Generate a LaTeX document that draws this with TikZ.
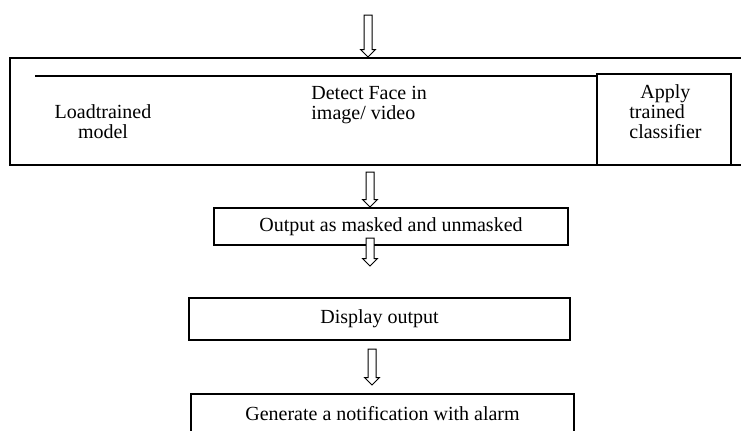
\documentclass[tikz,border=0pt]{standalone}
\usepackage{fontspec}
\setmainfont{Liberation Serif}
\usetikzlibrary{shapes.arrows}

\begin{document}
\begin{tikzpicture}[x=0.5pt, y=-0.5pt,
  every node/.style={font=\fontsize{10}{10}\selectfont},
  box/.style={draw, line width=0.6pt, inner sep=0pt},
  hollow/.style={single arrow, draw, fill=white, line width=0.5pt, shape border rotate=270,
    inner sep=1.75pt, minimum width=7pt, single arrow head extend=1.75pt, single arrow head indent=0pt}]
\useasboundingbox (0,0) rectangle (741,430);
% incoming arrow and the detection stage
\node[hollow, minimum height=21pt] (in) at (368,34) {};
\node[box, minimum width=370pt, minimum height=53.5pt] (pipeline) at (380,111.5) {};
\node[box, minimum width=67pt, minimum height=45.5pt] (classify) at (664,119.5) {};
\coordinate (rule) at (35,76);
\draw[line width=0.6pt] (rule) -- (rule -| classify.west);
\node[align=center] (load) at (103,122) {Loadtrained\\model};
\node[align=left, anchor=west, inner sep=0pt] (detect) at (311,105) {Detect Face in\\image/ video};
\node[align=left, anchor=west, inner sep=0pt] (apply) at (629,112) {\hspace*{5.5pt}Apply\\trained\\classifier};
% result stages
\node[hollow, minimum height=17.5pt] (a2) at (370,187.5) {};
\node[box, minimum width=177pt, minimum height=18.5pt] (output) at (391,226.5) {Output as masked and unmasked};
\node[hollow, minimum height=14pt] (a3) at (370,250) {};
\node[box, minimum width=190.5pt, minimum height=21pt] (display) at (379.5,319) {Display output};
\node[hollow, minimum height=18pt] (a4) at (372,365) {};
\node[box, minimum width=191.5pt, minimum height=20pt] (alarm) at (382.5,414) {Generate a notification with alarm};
\end{tikzpicture}
\end{document}
